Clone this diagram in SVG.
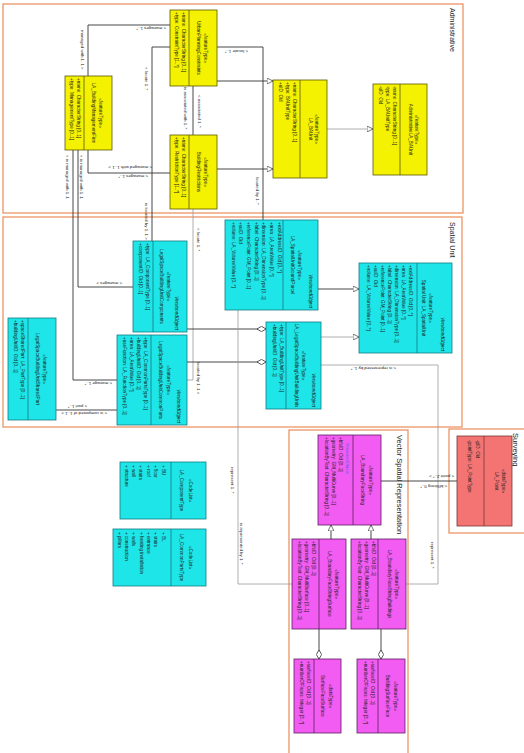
<svg xmlns="http://www.w3.org/2000/svg" width="524" height="753" viewBox="0 0 524 753">
<style>
text{font-family:"Liberation Sans",Arial,sans-serif;font-size:4.6px;fill:#1a1a1a}
.hd{text-anchor:middle}
.vo{font-style:italic;text-anchor:end}
.pk{font-size:7px}
.lb{font-size:4.4px}
.blue{fill:#4a5ae8}
.pkg{fill:none;stroke:#ea8a58;stroke-width:1.2}
.y{fill:#f4f200;stroke:#5c5800;stroke-width:0.8}
.c{fill:#1ee6e8;stroke:#127a80;stroke-width:0.8}
.m{fill:#f25cf2;stroke:#5a2060;stroke-width:0.8}
.r{fill:#f47474;stroke:#7a3636;stroke-width:0.8}
.ln{fill:none;stroke:#333;stroke-width:0.9}
.lg{fill:none;stroke:#9a9a9a;stroke-width:0.8}
</style>
<defs>
<marker id="tri" viewBox="0 0 8 8" refX="8" refY="4" markerWidth="6" markerHeight="6" markerUnits="userSpaceOnUse" orient="auto"><path d="M0,0 L8,4 L0,8 z" fill="#fff" stroke="#333" stroke-width="0.9"/></marker>
<marker id="dia" viewBox="0 0 10 6" refX="10" refY="3" markerWidth="9" markerHeight="5.4" markerUnits="userSpaceOnUse" orient="auto"><path d="M0,3 L5,0 L10,3 L5,6 z" fill="#fff" stroke="#333" stroke-width="0.9"/></marker>
</defs>
<rect width="524" height="753" fill="#fff"/>
<!-- landscape drawing turned a quarter turn clockwise -->
<g transform="translate(524 0) rotate(90)">

<!-- packages -->
<g id="packages">
<rect class="pkg" x="4" y="61" width="209" height="460"/>
<text class="pk" x="8" y="74.5">Administrative</text>
<rect class="pkg" x="217" y="62" width="210" height="459"/>
<text class="pk" x="222" y="74.5">Spatial Unit</text>
<rect class="pkg" x="430" y="116" width="330" height="119"/>
<text class="pk" x="435" y="127.5" style="font-size:7.5px">Vector Spatial Representation</text>
<rect class="pkg" x="429" y="-6" width="104" height="81"/>
<text class="pk" x="433" y="11.5" style="font-size:7.5px">Surveying</text>
</g>

<!-- connectors -->
<g id="connectors">
<path class="ln" d="M25,354 V436 H76"/>
<path class="ln" d="M150,436 H173 V354"/>
<path class="ln" d="M86,331 H135"/>
<path class="lg" d="M209,331 H380 V337"/>
<path class="ln" d="M47,354 V372 H241"/>
<path class="ln" d="M47,307 V261 H220"/>
<path class="ln" d="M81,307 V251" marker-end="url(#tri)"/>
<path class="ln" d="M169,307 V251" marker-end="url(#tri)"/>
<path class="lg" d="M129,197 V151" marker-end="url(#tri)"/>
<path class="ln" d="M150,451 H380 V407"/>
<path class="ln" d="M150,446 H287 V391"/>
<path class="ln" d="M329,337 V258" marker-end="url(#dia)"/>
<path class="ln" d="M362,337 V258" marker-end="url(#dia)"/>
<path class="ln" d="M289,206 V165" marker-end="url(#tri)"/>
<path class="lg" d="M337,203 V165" marker-end="url(#tri)"/>
<path class="lg" d="M310,286 H584 V232"/>
<path class="lg" d="M365,203 V86 H584 V118"/>
<path class="ln" d="M539,193 H525" marker-end="url(#tri)"/>
<path class="ln" d="M539,153 H525" marker-end="url(#tri)"/>
<path class="ln" d="M629,205 H659" marker-end="url(#dia)"/>
<path class="ln" d="M629,143 H659" marker-end="url(#dia)"/>
<path class="ln" d="M481,143 V67"/>
<path class="ln" d="M410,468 V407"/>

<text class="lb" transform="translate(26.5 358) rotate(90)">&lt; manages 1..*</text>
<text class="lb" x="30" y="443">managed with 1..1 &gt;</text>
<text class="lb" transform="translate(166 372) rotate(90)">&lt; managed with 1..1 &gt;</text>
<text class="lb" transform="translate(174.5 376) rotate(90)">&lt; manages 1..*</text>
<text class="lb" x="87" y="340.5">is associated with 1..*</text>
<text class="lb" x="95" y="326.5">&lt; associated 1..*</text>
<text class="lb" x="228" y="327.5">&lt; locate 1..*</text>
<text class="lb" x="362" y="327.5">located by 1..1 &gt;</text>
<text class="lb" x="67" y="379.5">&lt; locate 1..*</text>
<text class="lb" x="203" y="379.5">is located by 1..1 &gt;</text>
<text class="lb" transform="translate(49.5 276) rotate(90)">&lt; locate 1..*</text>
<text class="lb" x="177" y="268">located by 1..*</text>
<text class="lb" x="155" y="458">&lt; is managed with 1..1</text>
<text class="lb" transform="translate(381.5 412) rotate(90)">&lt; manage 1..*</text>
<text class="lb" x="155" y="444.5">&lt; is managed with 1..1</text>
<text class="lb" transform="translate(281.5 402) rotate(90)">&lt; manages &gt;</text>
<text class="lb" x="467" y="293">represent 1..*</text>
<text class="lb" x="523" y="284">is represented by 1..*</text>
<text class="lb" transform="translate(367 128) rotate(90)">&lt; is represented by 1..*</text>
<text class="lb" x="542" y="93.5">represent 1..*</text>
<text class="lb" transform="translate(474.5 70) rotate(90)">&lt; point 2..* &gt;</text>
<text class="lb" transform="translate(484.5 77) rotate(90)">&lt; bfString 0..*</text>
<text class="lb" transform="translate(405 437) rotate(90)">&lt; part 1..*</text>
<text class="lb" transform="translate(412 417) rotate(90)">&lt; is composed of 1..1 &gt;</text>
</g>

<!-- Administrative -->
<g id="urban-constraints">
<rect class="y" x="10" y="307" width="76" height="47"/>
<line class="y" x1="10" y1="335" x2="86" y2="335"/>
<text class="hd" x="48" y="320">«featureType»</text>
<text class="hd" x="48" y="327">UrbanPlanningConstraints</text>
<text x="12" y="342">+name: CharacterString [0..1]</text>
<text x="12" y="349">+type: ConstraintType [1..*]</text>
</g>
<g id="building-management-firm">
<rect class="y" x="76" y="412" width="74" height="47"/>
<line class="y" x1="76" y1="440" x2="150" y2="440"/>
<text class="hd" x="113" y="425">«featureType»</text>
<text class="hd" x="113" y="432">LA_BuildingManagementFirm</text>
<text x="78" y="447">+name: CharacterString [0..1]</text>
<text x="78" y="454">+type: ManagementType [0..1]</text>
</g>
<g id="building-restrictions">
<rect class="y" x="135" y="307" width="74" height="47"/>
<line class="y" x1="135" y1="335" x2="209" y2="335"/>
<text class="hd" x="172" y="320">«featureType»</text>
<text class="hd" x="172" y="327">BuildingRestrictions</text>
<text x="137" y="342">+name: CharacterString [0..1]</text>
<text x="137" y="349">+type: RestrictionType [1..*]</text>
</g>
<g id="ba-unit">
<rect class="y" x="80" y="197" width="98" height="54"/>
<line class="y" x1="80" y1="224" x2="178" y2="224"/>
<text class="hd" x="129" y="209">«featureType»</text>
<text class="hd" x="129" y="215.5">LA_BAUnit</text>
<text x="82" y="231">+name: CharacterString [0..1]</text>
<text x="82" y="238">+type: BAUnitType</text>
<text x="82" y="245">+uID: Oid</text>
</g>
<g id="administrative-ba-unit">
<rect class="y" x="84" y="97" width="91" height="54"/>
<line class="y" x1="84" y1="124" x2="175" y2="124"/>
<text class="hd" x="129.5" y="109">«featureType»</text>
<text class="hd" x="129.5" y="115.5">AdministrativeLA_BAUnit</text>
<text x="86" y="131">-name: CharacterString [0..1]</text>
<text x="86" y="138">-type: LA_BAUnitType</text>
<text x="86" y="145">-uID: Oid</text>
</g>

<!-- Spatial Unit -->
<g id="spatial-unit-ground">
<rect class="c" x="220" y="206" width="90" height="93"/>
<line class="c" x1="220" y1="241" x2="310" y2="241"/>
<text class="vo" x="308" y="215.5">VersionedObject</text>
<text class="hd" x="265" y="226.5">«featureType»</text>
<text class="hd" x="265" y="233.5">LA_SpatialUnitGroundParcel</text>
<text x="222" y="246.5">+extAddressID: Oid [0..*]</text>
<text x="222" y="254.2">+area: LA_AreaValue [0..*]</text>
<text x="222" y="261.8">+dimension: LA_DimensionType [0..1]</text>
<text x="222" y="269.5">+label: CharacterString [0..1]</text>
<text x="222" y="277.2">+referencePoint: GM_Point [0..1]</text>
<text x="222" y="284.8">+suID: Oid</text>
<text x="222" y="292.5">+volume: LA_VolumeValue [0..*]</text>
</g>
<g id="spatial-unit">
<rect class="c" x="263" y="72" width="90" height="93"/>
<line class="c" x1="263" y1="107" x2="353" y2="107"/>
<text class="vo" x="351" y="83.5">VersionedObject</text>
<text class="hd" x="308" y="95.5">«featureType»</text>
<text class="hd" x="308" y="102.5">Spatial Unit::LA_SpatialUnit</text>
<text x="265" y="115">+extAddressID: Oid [0..*]</text>
<text x="265" y="122">+area: LA_AreaValue [0..*]</text>
<text x="265" y="129">+dimension: LA_DimensionType [0..1]</text>
<text x="265" y="136">+label: CharacterString [0..1]</text>
<text x="265" y="143">+referencePoint: GM_Point [0..1]</text>
<text x="265" y="150">+suID: Oid</text>
<text x="265" y="157">+volume: LA_VolumeValue [0..*]</text>
</g>
<g id="legal-space-building-unit">
<rect class="c" x="322" y="203" width="87" height="55"/>
<line class="c" x1="322" y1="238" x2="409" y2="238"/>
<text class="vo" x="407" y="212.5">VersionedObject</text>
<text class="hd" x="365.5" y="222.5">«featureType»</text>
<text class="hd" x="365.5" y="229.5">LA_LegalSpaceBuildingUnitBuildingUnits</text>
<text x="324" y="244.5">+type: LA_BuildingUnitType [0..1]</text>
<text x="324" y="251.5">+buildingUnitID: Oid [0..1]</text>
</g>
<g id="building-unit-components">
<rect class="c" x="241" y="337" width="91" height="54"/>
<line class="c" x1="241" y1="371" x2="332" y2="371"/>
<text class="vo" x="330" y="349">VersionedObject</text>
<text class="hd" x="286.5" y="357">«featureType»</text>
<text class="hd" x="286.5" y="364.5">LegalSpaceBuildingUnitComponents</text>
<text x="243" y="378">+type: LA_ComponentType [0..1]</text>
<text x="243" y="385">+componentID: Oid [0..1]</text>
</g>
<g id="building-unit-common-parts">
<rect class="c" x="335" y="337" width="90" height="70"/>
<line class="c" x1="335" y1="373" x2="425" y2="373"/>
<text class="vo" x="423" y="347.5">VersionedObject</text>
<text class="hd" x="380" y="357.5">«featureType»</text>
<text class="hd" x="380" y="365.5">LegalSpaceBuildingUnitCommonParts</text>
<text x="337" y="380.5">+type: LA_CommonPartsType [0..1]</text>
<text x="337" y="387.5">+buildingUnitID: Oid [0..1]</text>
<text x="337" y="394.5">+area: LA_AreaValue [0..*]</text>
<text x="337" y="401.5">+useFunction: LA_FunctionType [0..1]</text>
</g>
<g id="building-unit-shared-part">
<rect class="c" x="318" y="468" width="102" height="48"/>
<line class="c" x1="318" y1="496" x2="420" y2="496"/>
<text class="hd" x="369" y="481">«featureType»</text>
<text class="hd" x="369" y="488.5">LegalSpaceBuildingUnitSharedPart</text>
<text x="320" y="503">+spaceSharedPart: LA_PartType [0..1]</text>
<text x="320" y="510">+buildingUnitID: Oid [0..1]</text>
</g>

<!-- code lists -->
<g id="component-type">
<rect class="c" x="462" y="318" width="57" height="86"/>
<line class="c" x1="462" y1="353" x2="519" y2="353"/>
<text class="hd" x="490.5" y="335.5">«CodeList»</text>
<text class="hd" x="490.5" y="344">LA_ComponentType</text>
<text x="465" y="362.5">+ BU</text>
<text x="465" y="369.9">+ floor</text>
<text x="465" y="377.3">+ roof</text>
<text x="465" y="384.7">+ stairs</text>
<text x="465" y="392.1">+ wall</text>
<text x="465" y="399.5">+ structure</text>
</g>
<g id="common-parts-type">
<rect class="c" x="529" y="318" width="57" height="93"/>
<line class="c" x1="529" y1="353" x2="586" y2="353"/>
<text class="hd" x="557.5" y="335.5">«CodeList»</text>
<text class="hd" x="557.5" y="344">LA_CommonPartsType</text>
<text x="532" y="362.5">+ BL</text>
<text x="532" y="369.8">+ stairs</text>
<text x="532" y="377.1">+ entrance</text>
<text x="532" y="384.4">+ heating installation</text>
<text x="532" y="391.7">+ walls</text>
<text x="532" y="399">+ construction</text>
<text x="532" y="406.3">+ pillars</text>
</g>

<!-- Vector Spatial Representation -->
<g id="boundary-face-string">
<rect class="m" x="435" y="143" width="90" height="63"/>
<line class="m" x1="435" y1="171" x2="525" y2="171"/>
<text class="hd" x="480" y="155.5">«featureType»</text>
<text class="hd" x="480" y="163.5">LA_BoundaryFaceString</text>
<text class="blue" x="443" y="178.5" style="font-size:4.2px">VersionedObject</text>
<text x="437" y="185.5">+bfsID: Oid [0..1]</text>
<text x="437" y="192.5">+geometry: GM_MultiCurve [0..1]</text>
<text x="437" y="199.5">+locationByText: CharacterString [0..1]</text>
</g>
<g id="boundary-face-string-surface">
<rect class="m" x="539" y="178" width="90" height="54"/>
<line class="m" x1="539" y1="205" x2="629" y2="205"/>
<text class="hd" x="584" y="189">«featureType»</text>
<text class="hd" x="584" y="196">LA_BoundaryFaceStringSurface</text>
<text x="541" y="212">+bfsID: Oid [0..1]</text>
<text x="541" y="219">+geometry: GM_MultiSurface [0..1]</text>
<text x="541" y="226">+locationByText: CharacterString [0..1]</text>
</g>
<g id="boundary-face-string-building">
<rect class="m" x="539" y="118" width="90" height="55"/>
<line class="m" x1="539" y1="146" x2="629" y2="146"/>
<text class="hd" x="584" y="129">«featureType»</text>
<text class="hd" x="584" y="136.5">LA_BoundaryFaceStringBuildings</text>
<text x="541" y="152.5">+bfsID: Oid [0..1]</text>
<text x="541" y="159.5">+geometry: GM_MultiCurve [0..1]</text>
<text x="541" y="166.5">+locationByText: CharacterString [0..1]</text>
</g>
<g id="surface-face">
<rect class="m" x="659" y="183" width="74" height="47"/>
<line class="m" x1="659" y1="210" x2="733" y2="210"/>
<text class="hd" x="696" y="195.5">«dataType»</text>
<text class="hd" x="696" y="203">SurfaceFaceSurface</text>
<text x="661" y="217">+surfaceID: Oid [0..1]</text>
<text x="661" y="224">+numberOfFaces: Integer [3..*]</text>
</g>
<g id="building-surface-face">
<rect class="m" x="659" y="119" width="74" height="48"/>
<line class="m" x1="659" y1="146" x2="733" y2="146"/>
<text class="hd" x="696" y="130.5">«featureType»</text>
<text class="hd" x="696" y="138">BuildingSurfaceFace</text>
<text x="661" y="153">+surfaceID: Oid [0..1]</text>
<text x="661" y="160">+numberOfFaces: Integer [3..*]</text>
</g>

<!-- Surveying -->
<g id="la-point">
<rect class="r" x="436" y="12" width="90" height="55"/>
<line class="r" x1="436" y1="40" x2="526" y2="40"/>
<text class="hd" x="481" y="22.5">«dataType»</text>
<text class="hd" x="481" y="29.5">LA_Point</text>
<text x="440" y="48">-pID: Oid</text>
<text x="440" y="56">-pointType: LA_PointType</text>
</g>
</g>
</svg>
